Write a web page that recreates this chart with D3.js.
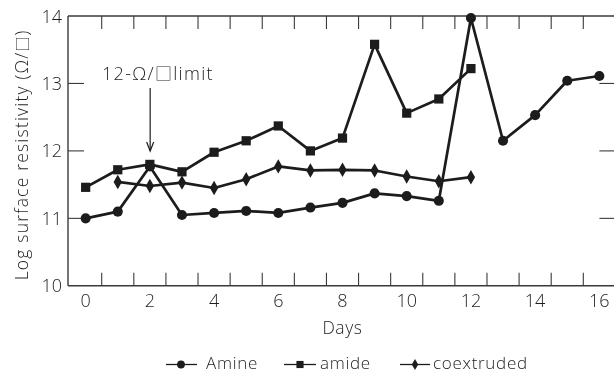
<!DOCTYPE html>
<html>
<head>
<meta charset="utf-8">
<script src="https://cdn.jsdelivr.net/npm/d3@7"></script>
<style>
  html, body { margin: 0; padding: 0; background: #fff; }
  #chart { will-change: transform; }
  svg text { font-family: "Open Sans", "DejaVu Sans", sans-serif; fill: #1e1e1e; }
  .box { font-family: "Noto Sans CJK JP", "DejaVu Sans", sans-serif; }
</style>
</head>
<body>
<svg id="chart" width="614" height="374"></svg>
<script>
// Days sampled for each coating
const daysAmine = [0, 1, 2, 3, 4, 5, 6, 7, 8, 9, 10, 11, 12, 13, 14, 15, 16];
const amine     = [11.0, 11.1, 11.77, 11.05, 11.08, 11.11, 11.08, 11.16, 11.23, 11.37, 11.33, 11.26, 13.97, 12.15, 12.53, 13.04, 13.11];

const daysAmide = [0, 1, 2, 3, 4, 5, 6, 7, 8, 9, 10, 11, 12];
const amide     = [11.46, 11.72, 11.8, 11.69, 11.98, 12.15, 12.37, 12.0, 12.19, 13.58, 12.56, 12.77, 13.22];

const daysCoext = [1, 2, 3, 4, 5, 6, 7, 8, 9, 10, 11, 12];
const coext     = [11.54, 11.48, 11.53, 11.45, 11.58, 11.77, 11.71, 11.72, 11.71, 11.62, 11.55, 11.61];

const xLabels = [0, 2, 4, 6, 8, 10, 12, 14, 16];
const xMinorTicks = [0.5, 1.5, 2.5, 3.5, 4.5, 5.5, 6.5, 7.5, 8.5, 9.5, 10.5, 11.5, 12.5, 13.5, 14.5, 15.5];
const yTicks = [10, 11, 12, 13, 14];
const seriesNames = ["Amine", "amide", "coextruded"];

const svg = d3.select("#chart");
const ink = "#1c1c1c";
const axisInk = "#3a3a3a";

const x = d3.scaleLinear().domain([-0.55, 16.5]).range([68, 615.4]);
const y = d3.scaleLinear().domain([10, 14]).range([285.8, 16]);

const [x0, x1] = x.range();
const [yb, yt] = y.range();

// Frame lines: left, top, bottom
const frame = svg.append("g").attr("stroke", axisInk).attr("stroke-width", 1.4).attr("fill", "none");
frame.append("line").attr("x1", x0).attr("x2", x0).attr("y1", yt).attr("y2", yb);
frame.append("line").attr("x1", x0).attr("x2", x1).attr("y1", yt).attr("y2", yt);
frame.append("line").attr("x1", x0).attr("x2", x1).attr("y1", yb).attr("y2", yb);

// Inward ticks on all four sides
const tickG = svg.append("g").attr("stroke", axisInk).attr("stroke-width", 1.1);
tickG.selectAll(".tb").data(xMinorTicks).join("line")
  .attr("x1", d => x(d)).attr("x2", d => x(d)).attr("y1", yb).attr("y2", yb - 13);
tickG.selectAll(".tt").data(xMinorTicks).join("line")
  .attr("x1", d => x(d)).attr("x2", d => x(d)).attr("y1", yt).attr("y2", yt + 13);
const innerY = yTicks.filter(v => v > 10 && v < 14);
tickG.selectAll(".tl").data(innerY).join("line")
  .attr("x1", x0).attr("x2", x0 + 16).attr("y1", d => y(d)).attr("y2", d => y(d));
tickG.selectAll(".tr").data(innerY).join("line")
  .attr("x1", x1).attr("x2", x1 - 16).attr("y1", d => y(d)).attr("y2", d => y(d));

// Axis labels
svg.append("g").selectAll("text").data(xLabels).join("text")
  .attr("x", d => x(d)).attr("y", 307)
  .attr("text-anchor", "middle").attr("font-size", 18).attr("font-weight", 300)
  .text(d => d);

svg.append("g").selectAll("text").data(yTicks).join("text")
  .attr("x", 62).attr("y", d => y(d) + 6.5)
  .attr("text-anchor", "end").attr("font-size", 18).attr("font-weight", 300)
  .text(d => d);

svg.append("text")
  .attr("x", x(8)).attr("y", 334)
  .attr("text-anchor", "middle").attr("font-size", 17.5).attr("font-weight", 300)
  .attr("letter-spacing", 0.6)
  .text("Days");

const yTitle = svg.append("text")
  .attr("transform", `translate(28, ${(yt + yb) / 2 + 4}) rotate(-90)`)
  .attr("text-anchor", "middle").attr("font-size", 17.5).attr("font-weight", 300)
  .attr("letter-spacing", 1.2);
yTitle.append("tspan").text("Log surface resistivity (Ω/");
yTitle.append("tspan").attr("class", "box").attr("font-size", 15).text("□");
yTitle.append("tspan").text(")");

// Annotation with arrow pointing at day 2
const ax = x(2) + 0.3;
const note = svg.append("text")
  .attr("x", 102).attr("y", 80)
  .attr("font-size", 18).attr("font-weight", 300)
  .attr("letter-spacing", 1.3);
note.append("tspan").text("12-Ω/");
note.append("tspan").attr("class", "box").attr("font-size", 17).text("□");
note.append("tspan").text("limit");
svg.append("line").attr("x1", ax).attr("x2", ax).attr("y1", 88).attr("y2", 151)
  .attr("stroke", ink).attr("stroke-width", 1.2);
svg.append("path")
  .attr("d", `M${ax - 3.5},${142} L${ax},${151} L${ax + 3.5},${142}`)
  .attr("fill", "none").attr("stroke", ink).attr("stroke-width", 1.2);

// Series
const line = d3.line().x(d => x(d[0])).y(d => y(d[1]));
const series = [
  { days: daysAmine, vals: amine, symbol: d3.symbolCircle, size: 80 },
  { days: daysAmide, vals: amide, symbol: d3.symbolSquare, size: 85 },
  { days: daysCoext, vals: coext, symbol: d3.symbolDiamond, size: 60 }
];

series.forEach(s => {
  const pts = s.days.map((d, i) => [d, s.vals[i]]);
  svg.append("path").datum(pts)
    .attr("d", line).attr("fill", "none")
    .attr("stroke", ink).attr("stroke-width", 2.7).attr("stroke-linejoin", "round");
  svg.append("g").selectAll("path").data(pts).join("path")
    .attr("transform", d => `translate(${x(d[0])},${y(d[1])})`)
    .attr("d", d3.symbol().type(s.symbol).size(s.size))
    .attr("fill", ink);
});

// Legend
const legendY = 364.5;
const legendItems = [
  { x1: 166, x2: 197, mx: 181, tx: 206 },
  { x1: 284, x2: 316, mx: 300, tx: 320 },
  { x1: 400, x2: 430, mx: 415, tx: 433 }
];
legendItems.forEach((it, i) => {
  const g = svg.append("g");
  g.append("line").attr("x1", it.x1).attr("x2", it.x2).attr("y1", legendY).attr("y2", legendY)
    .attr("stroke", ink).attr("stroke-width", 1.3);
  g.append("path").attr("transform", `translate(${it.mx},${legendY})`)
    .attr("d", d3.symbol().type(series[i].symbol).size(series[i].size * 0.6))
    .attr("fill", ink);
  g.append("text").attr("x", it.tx).attr("y", 368.5)
    .attr("font-size", 17).attr("font-weight", 300).attr("letter-spacing", 0.7)
    .text(seriesNames[i]);
});
</script>
</body>
</html>
